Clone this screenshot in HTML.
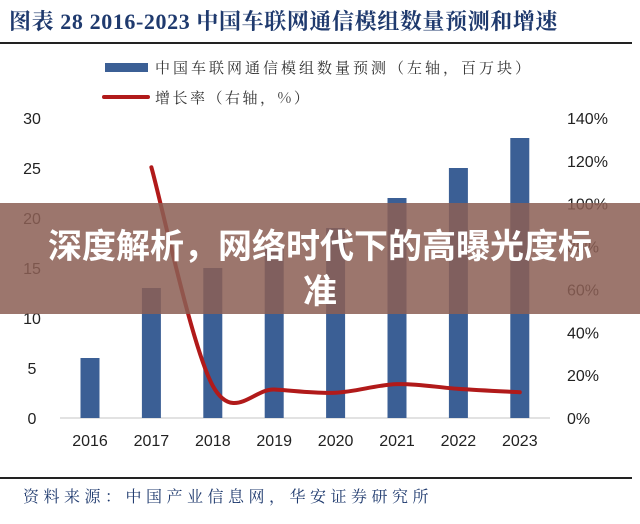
<!DOCTYPE html>
<html><head><meta charset="utf-8">
<style>
body{margin:0;background:#fff;width:640px;height:524px;overflow:hidden;position:relative;font-family:"Liberation Sans","Noto Sans CJK SC",sans-serif;}
#title{position:absolute;left:9px;top:5px;font-family:"Liberation Serif","Noto Serif CJK SC",serif;font-size:22px;font-weight:bold;color:#1f3a6e;white-space:nowrap;letter-spacing:0.6px;}
#rule1{position:absolute;left:0;top:42px;width:632px;height:2px;background:#222;}
#rule2{position:absolute;left:0;top:477px;width:632px;height:2px;background:#222;}
#source{position:absolute;left:23px;top:484px;font-family:"Noto Serif CJK SC",serif;font-size:16px;letter-spacing:4.5px;color:#1f3a6e;white-space:nowrap;}
#banner{position:absolute;left:0;top:203px;width:640px;height:111px;background:rgba(140,95,85,0.86);}
#banner-text{position:absolute;left:45px;top:221px;width:550px;text-align:center;color:#fff;font-weight:bold;font-size:34px;line-height:45px;font-family:"Noto Sans CJK SC",sans-serif;}
</style></head><body>
<div id="title">图表 28 2016-2023 中国车联网通信模组数量预测和增速</div>
<div id="rule1"></div>
<svg id="chart" width="640" height="524" style="position:absolute;left:0;top:0"></svg>
<div id="rule2"></div>
<div id="source">资料来源：中国产业信息网，华安证券研究所</div>
<div id="banner"></div>
<div id="banner-text">深度解析，网络时代下的高曝光度标准</div>
<script>
const years=["2016","2017","2018","2019","2020","2021","2022","2023"];
const modules=[6,13,15,17,19,22,25,28];
const growth=[null,117,15,13.3,11.8,15.8,13.6,12];
const leftTicks=[0,5,10,15,20,25,30];
const rightTicks=[0,20,40,60,80,100,120,140];
const NS="http://www.w3.org/2000/svg";
const svg=document.getElementById('chart');
const x0=90,dx=61.4,yBase=418,yTop=118;
const xs=i=>x0+i*dx;
const yL=v=>yBase-(v/30)*(yBase-yTop);
const yR=v=>yBase-(v/140)*(yBase-yTop);
function mk(t,a){const e=document.createElementNS(NS,t);for(const k in a)e.setAttribute(k,a[k]);svg.appendChild(e);return e;}
let e=mk('rect',{x:105,y:63,width:43,height:9,fill:'#3b5f95'});


e=mk('text',{x:155,y:73,'font-size':15,'letter-spacing':3,fill:'#333','font-family':'"Noto Serif CJK SC",serif'});e.textContent='中国车联网通信模组数量预测（左轴，百万块）';


e=mk('line',{x1:104,y1:97,x2:148,y2:97,stroke:'#b11a1a','stroke-width':4,'stroke-linecap':'round'});


e=mk('text',{x:155,y:103,'font-size':15,'letter-spacing':2.5,fill:'#333','font-family':'"Noto Serif CJK SC",serif'});e.textContent='增长率（右轴，%）';


e=mk('line',{x1:60,y1:yBase,x2:550,y2:yBase,stroke:'#d9d9d9','stroke-width':1.5});


leftTicks.forEach(v=>{const t=mk('text',{x:32,y:yL(v)+6,'font-size':16,fill:'#222','text-anchor':'middle'});t.textContent=v;

});
rightTicks.forEach(v=>{const t=mk('text',{x:567,y:yR(v)+6,'font-size':16,fill:'#222'});t.textContent=v+'%';

});
years.forEach((y,i)=>{const t=mk('text',{x:xs(i),y:446,'font-size':16,fill:'#222','text-anchor':'middle'});t.textContent=y;

});
modules.forEach((v,i)=>{const r=mk('rect',{x:xs(i)-9.5,y:yL(v),width:19,height:yBase-yL(v),fill:'#3b5f95'});

});
const pts=[];growth.forEach((g,i)=>{if(g!==null)pts.push([xs(i),yR(g)]);});
let d='M'+pts[0][0]+','+pts[0][1];
for(let i=0;i<pts.length-1;i++){const p0=pts[Math.max(0,i-1)],p1=pts[i],p2=pts[i+1],p3=pts[Math.min(pts.length-1,i+2)];
const c1=[p1[0]+(p2[0]-p0[0])/6,p1[1]+(p2[1]-p0[1])/6],c2=[p2[0]-(p3[0]-p1[0])/6,p2[1]-(p3[1]-p1[1])/6];
d+=' C'+c1[0]+','+c1[1]+' '+c2[0]+','+c2[1]+' '+p2[0]+','+p2[1];}
e=mk('path',{d:d,fill:'none',stroke:'#b11a1a','stroke-width':4,'stroke-linecap':'round'});


</script>
</body></html>
